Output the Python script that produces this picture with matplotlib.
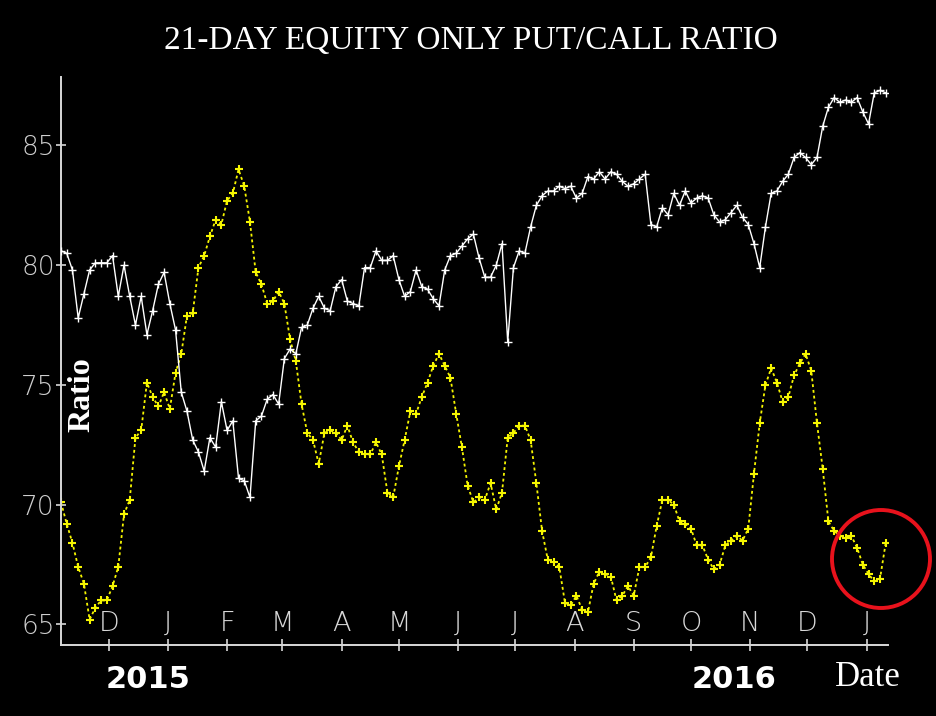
import matplotlib
matplotlib.use("Agg")
import matplotlib.pyplot as plt
import matplotlib.transforms as mtransforms
from matplotlib.patches import Ellipse
import pandas as pd

# ---------------- data ----------------
start_date = "2015-11-06"
step = "3D"

white_values = [
    80.6, 80.5, 79.8, 77.8, 78.8, 79.8, 80.1, 80.1, 80.1, 80.4,
    78.7, 80.0, 78.7, 77.5, 78.7, 77.1, 78.1, 79.2, 79.7, 78.4,
    77.3, 74.7, 73.9, 72.7, 72.2, 71.4, 72.8, 72.4, 74.3, 73.1,
    73.5, 71.1, 71.0, 70.3, 73.5, 73.7, 74.4, 74.6, 74.2, 76.1,
    76.5, 76.3, 77.4, 77.5, 78.2, 78.7, 78.2, 78.1, 79.1, 79.4,
    78.5, 78.4, 78.3, 79.9, 79.9, 80.6, 80.2, 80.2, 80.4, 79.4,
    78.7, 78.9, 79.8, 79.1, 79.0, 78.6, 78.3, 79.8, 80.4, 80.5,
    80.8, 81.1, 81.3, 80.3, 79.5, 79.5, 80.0, 80.9, 76.8, 79.9,
    80.6, 80.5, 81.6, 82.5, 82.9, 83.1, 83.1, 83.3, 83.2, 83.3,
    82.8, 83.0, 83.7, 83.6, 83.9, 83.6, 83.9, 83.8, 83.5, 83.3,
    83.4, 83.6, 83.8, 81.7, 81.6, 82.4, 82.1, 83.0, 82.5, 83.1,
    82.6, 82.8, 82.9, 82.8, 82.1, 81.8, 81.9, 82.2, 82.5, 82.0,
    81.7, 80.9, 79.9, 81.6, 83.0, 83.1, 83.5, 83.8, 84.5, 84.7,
    84.5, 84.2, 84.5, 85.8, 86.6, 87.0, 86.8, 86.9, 86.8, 87.0,
    86.4, 85.9, 87.2, 87.3, 87.2,
]

putcall_values = [
    70.1, 69.2, 68.4, 67.4, 66.7, 65.2, 65.7, 66.0, 66.0, 66.6,
    67.4, 69.6, 70.2, 72.8, 73.1, 75.1, 74.5, 74.1, 74.7, 74.0,
    75.5, 76.3, 77.9, 78.0, 79.9, 80.4, 81.2, 81.9, 81.7, 82.7,
    83.0, 84.0, 83.3, 81.8, 79.7, 79.2, 78.4, 78.5, 78.9, 78.4,
    76.9, 76.0, 74.2, 73.0, 72.7, 71.7, 73.0, 73.1, 73.0, 72.7,
    73.3, 72.6, 72.2, 72.1, 72.1, 72.6, 72.1, 70.5, 70.3, 71.6,
    72.7, 73.9, 73.8, 74.5, 75.1, 75.8, 76.3, 75.8, 75.3, 73.8,
    72.4, 70.8, 70.1, 70.3, 70.2, 70.9, 69.8, 70.5, 72.8, 73.0,
    73.3, 73.3, 72.7, 70.9, 68.9, 67.7, 67.6, 67.4, 65.9, 65.8,
    66.2, 65.6, 65.5, 66.7, 67.2, 67.1, 67.0, 66.0, 66.2, 66.6,
    66.2, 67.4, 67.4, 67.8, 69.1, 70.2, 70.2, 70.0, 69.3, 69.2,
    69.0, 68.3, 68.3, 67.7, 67.3, 67.5, 68.3, 68.5, 68.7, 68.5,
    69.0, 71.3, 73.4, 75.0, 75.7, 75.1, 74.3, 74.5, 75.4, 75.9,
    76.3, 75.6, 73.4, 71.5, 69.3, 68.9, 68.7, 68.6, 68.7, 68.2,
    67.5, 67.1, 66.8, 66.9, 68.4,
]

y_ticks = [65, 70, 75, 80, 85]
month_tick_start = "2015-12-01"
month_tick_end = "2017-01-01"
month_labels = ["D", "J", "F", "M", "A", "M", "J", "J", "A", "S", "O", "N", "D", "J"]
year_labels = ["2015", "2016"]
title_text = "21-DAY EQUITY ONLY PUT/CALL RATIO"

# ---------------- figure ----------------
W, H = 936, 716
fig = plt.figure(figsize=(W / 100, H / 100), dpi=100, facecolor="black")
ax = fig.add_axes([61 / W, 1 - 645 / H, 827 / W, 568 / H])
ax.set_facecolor("black")

dates = pd.date_range(start_date, periods=len(white_values), freq=step)

ax.plot(dates, putcall_values, color="#f5f500", ls=(0, (1.6, 1.6)), lw=1.3,
        marker="+", ms=5.5, mew=1.5, zorder=2)
ax.plot(dates, white_values, color="white", ls="-", lw=1.0,
        marker="+", ms=5.5, mew=1.0, zorder=3)

x0 = pd.Timestamp(start_date)
ax.set_xlim(x0, x0 + pd.Timedelta(days=433.2))
ax.set_ylim(64.14, 87.86)

for s in ["top", "right"]:
    ax.spines[s].set_visible(False)
for s in ["left", "bottom"]:
    ax.spines[s].set_color("#d8d8d8")
    ax.spines[s].set_linewidth(1.4)

tick_font = {"family": ["DejaVu Sans"], "weight": "light"}
ax.set_yticks(y_ticks)
ax.set_yticklabels([str(v) for v in y_ticks], color="#cfcfcf", fontsize=19, **tick_font)
ax.tick_params(axis="y", direction="inout", length=7, width=1.2, color="#d8d8d8", pad=1)

month_ticks = pd.date_range(month_tick_start, month_tick_end, freq="MS")
ax.set_xticks(month_ticks)
ax.set_xticklabels([""] * len(month_ticks))
ax.tick_params(axis="x", direction="inout", length=9, width=1.2, color="#d8d8d8")

trans = mtransforms.blended_transform_factory(ax.transData, ax.transAxes)
for d, lab in zip(month_ticks, month_labels):
    ax.text(d, 0.038, lab, transform=trans, ha="center", va="center",
            color="#d8d8d8", fontsize=19.5, **tick_font)

# texts
fig.text(471 / W, 1 - 41 / H, title_text, ha="center", va="center",
         color="white", fontsize=24, family=["Liberation Serif", "DejaVu Serif"])
fig.text(82 / W, 1 - 395 / H, "Ratio", rotation=90, ha="center", va="center",
         color="white", fontsize=23, fontweight="bold",
         family=["Liberation Serif", "DejaVu Serif"])
fig.text(148 / W, 1 - 679 / H, year_labels[0], ha="center", va="center",
         color="white", fontsize=22, fontweight="bold", family=["DejaVu Sans"])
fig.text(734 / W, 1 - 679 / H, year_labels[1], ha="center", va="center",
         color="white", fontsize=22, fontweight="bold", family=["DejaVu Sans"])
fig.text(868 / W, 1 - 678 / H, "Date", ha="center", va="center",
         color="white", fontsize=25, family=["Liberation Serif", "DejaVu Serif"])

# red circle highlighting the latest reading
circ = Ellipse((881 / W, 1 - 559 / H), 98 / W, 98 / H, transform=fig.transFigure,
               fill=False, ec="#e8121c", lw=2.8, clip_on=False)
fig.patches.append(circ)

fig.savefig("out.png", dpi=100, facecolor="black")
